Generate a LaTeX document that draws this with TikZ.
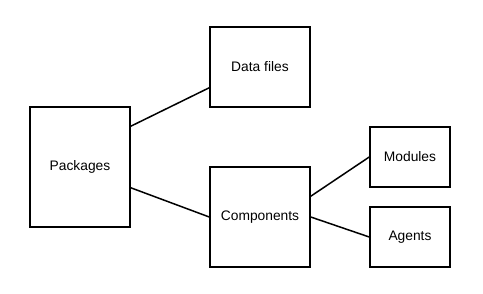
\documentclass[tikz,border=0pt]{standalone}
\usepackage{fontspec}
\setmainfont{Liberation Sans}
\begin{document}
\begin{tikzpicture}[x=1pt,y=-1pt,
  box/.style={draw,line width=1.5pt,inner sep=0pt,font=\fontsize{13.8}{16}\selectfont},
  link/.style={line width=1.5pt}]
\useasboundingbox (0,0) rectangle (483,294);
\node[box,minimum width=100pt,minimum height=120pt] (pk) at (80,167) {Packages};
\node[box,minimum width=100pt,minimum height=80pt] (df) at (260,67) {Data files};
\node[box,minimum width=100pt,minimum height=100pt] (cp) at (260,217) {Components};
\node[box,minimum width=80pt,minimum height=60pt] (md) at (410,157) {Modules};
\node[box,minimum width=80pt,minimum height=60pt] (ag) at (410,237) {Agents};
\draw[link] ([yshift=-20pt]pk.north east) -- ([yshift=20pt]df.south west);
\draw[link] ([yshift=40pt]pk.south east) -- (cp.west);
\draw[link] ([yshift=-30pt]cp.north east) -- (md.west);
\draw[link] (cp.east) -- (ag.west);
\end{tikzpicture}
\end{document}
